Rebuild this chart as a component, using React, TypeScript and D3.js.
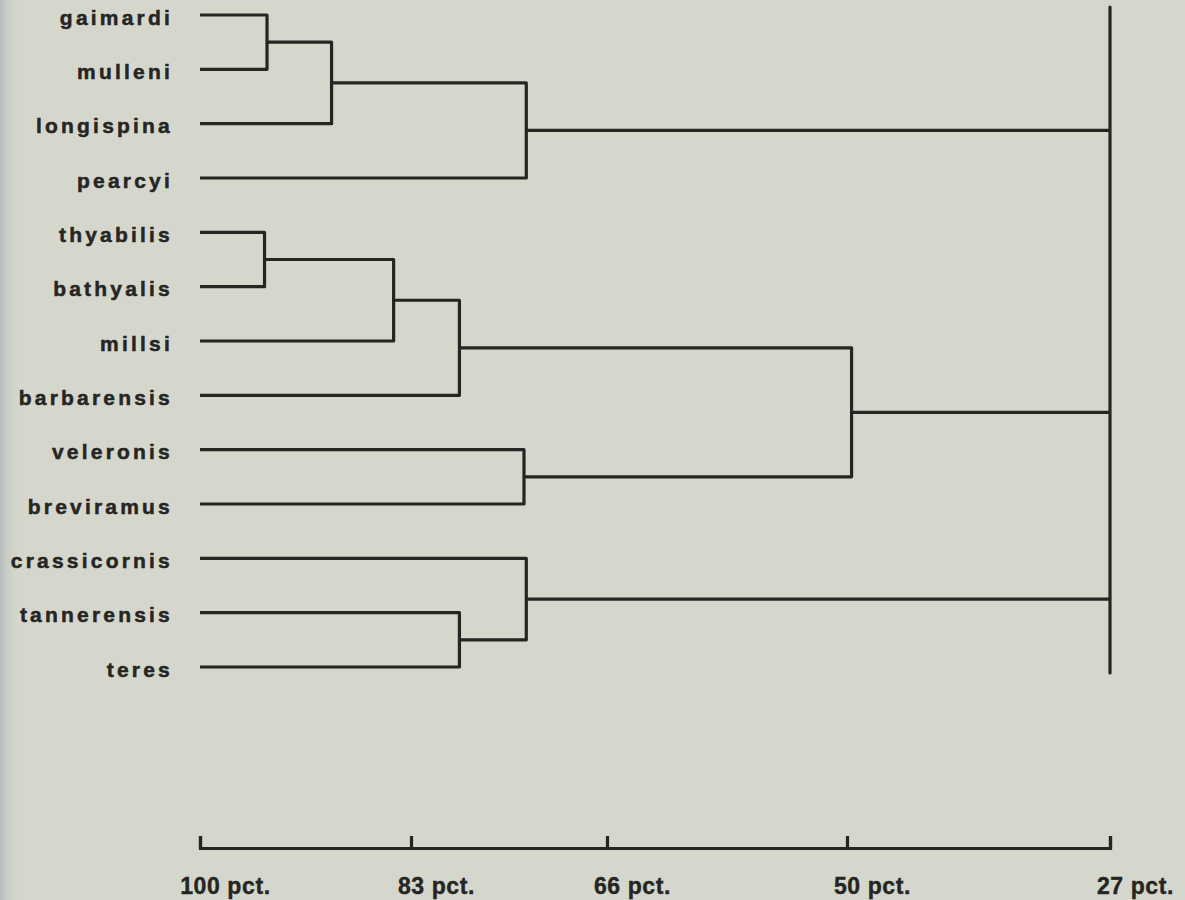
import * as d3 from 'd3';
import { useEffect, useRef } from 'react';

// leaves, top to bottom
const species = [
  'gaimardi',
  'mulleni',
  'longispina',
  'pearcyi',
  'thyabilis',
  'bathyalis',
  'millsi',
  'barbarensis',
  'veleronis',
  'breviramus',
  'crassicornis',
  'tannerensis',
  'teres',
];

// linkage: merge k joins clusters mergeA[k] and mergeB[k] (index < 13 is a leaf,
// 13 + j is merge j) at similarity mergeLevel[k] (pct.)
const mergeA = [0, 13, 14, 4, 16, 17, 8, 18, 11, 10];
const mergeB = [1, 2, 3, 5, 6, 7, 9, 19, 12, 21];
const mergeLevel = [94.6, 89.4, 73.0, 94.8, 84.4, 78.8, 73.2, 49.6, 78.8, 73.0];

// all remaining clusters join at the base
const rootChildren = [15, 20, 22];
const rootLevel = 27;

const axisTicks = [100, 83, 66, 50, 27];
const axisLabels = ['100 pct.', '83 pct.', '66 pct.', '50 pct.', '27 pct.'];

const W = 1185;
const H = 900;
const INK = '#252523';
const FONT = '"Liberation Sans", Arial, sans-serif';

const App = () => {
  const svgRef = useRef<SVGSVGElement>(null);

  useEffect(() => {
    document.body.style.margin = '0';
    if (!svgRef.current) return;
    const svg = d3.select(svgRef.current);
    svg.selectAll('*').remove();

    // the printed scale is not linear, so map it piecewise
    const x = d3
      .scaleLinear()
      .domain(axisTicks)
      .range([200, 411, 607, 847, 1110]);

    const y = d3.scalePoint<string>().domain(species).range([15, 667]);

    // background + darker scan edge
    const defs = svg.append('defs');
    const grad = defs
      .append('linearGradient')
      .attr('id', 'edge')
      .attr('x1', 0)
      .attr('x2', 1);
    grad.append('stop').attr('offset', 0).attr('stop-color', '#b4bcba');
    grad
      .append('stop')
      .attr('offset', 1)
      .attr('stop-color', '#d5d7cc')
      .attr('stop-opacity', 0);

    svg.append('rect').attr('width', W).attr('height', H).attr('fill', '#d5d7cc');
    svg.append('rect').attr('width', 20).attr('height', H).attr('fill', 'url(#edge)');

    // node positions
    const n = species.length;
    const nodeX: number[] = species.map(() => x(100));
    const nodeY: number[] = species.map((s) => y(s) ?? 0);
    mergeA.forEach((a, k) => {
      const b = mergeB[k];
      nodeX[n + k] = x(mergeLevel[k]);
      nodeY[n + k] = (nodeY[a] + nodeY[b]) / 2;
    });

    const g = svg
      .append('g')
      .attr('fill', 'none')
      .attr('stroke', INK)
      .attr('stroke-width', 3.2)
      .attr('stroke-linejoin', 'round');

    // elbows
    g.selectAll('path.merge')
      .data(mergeA.map((a, k) => ({ a, b: mergeB[k], id: n + k })))
      .join('path')
      .attr('class', 'merge')
      .attr(
        'd',
        (d) =>
          `M${nodeX[d.a]},${nodeY[d.a]}H${nodeX[d.id]}V${nodeY[d.b]}H${nodeX[d.b]}`,
      );

    // base line
    const rx = x(rootLevel);
    const yr = y.range();
    g.append('line')
      .attr('x1', rx)
      .attr('x2', rx)
      .attr('y1', yr[0] - 8)
      .attr('y2', yr[1] + 6)
      .attr('stroke-linecap', 'round');

    g.selectAll('line.root')
      .data(rootChildren)
      .join('line')
      .attr('class', 'root')
      .attr('x1', (c) => nodeX[c])
      .attr('x2', rx)
      .attr('y1', (c) => nodeY[c])
      .attr('y2', (c) => nodeY[c]);

    // leaf labels
    svg
      .append('g')
      .selectAll('text')
      .data(species)
      .join('text')
      .attr('x', 173)
      .attr('y', (d) => (y(d) ?? 0) + 9.5)
      .attr('text-anchor', 'end')
      .attr('fill', INK)
      .attr('stroke', INK)
      .attr('stroke-width', 0.5)
      .attr('font-family', FONT)
      .attr('font-weight', 700)
      .attr('font-size', 21)
      .attr('letter-spacing', 3.2)
      .text((d) => d);

    // similarity axis, ticks pointing up
    const axisY = 848;
    const axis = svg
      .append('g')
      .attr('transform', `translate(0,${axisY})`)
      .call(
        d3
          .axisTop(x)
          .tickValues(axisTicks)
          .tickSize(12)
          .tickSizeOuter(12)
          .tickFormat(() => ''),
      );
    axis.selectAll('path, line').attr('stroke', INK).attr('stroke-width', 3.2);
    axis.select('.domain').attr('fill', 'none');

    // labels: the number is centred on its tick
    svg
      .append('g')
      .selectAll('text')
      .data(axisTicks)
      .join('text')
      .attr('x', (d, i) => {
        const digits = axisLabels[i].split(' ')[0].length;
        return x(d) - (digits * 12.8 + (digits - 1) * 0.6) / 2;
      })
      .attr('y', 894)
      .attr('fill', INK)
      .attr('stroke', INK)
      .attr('stroke-width', 0.4)
      .attr('font-family', FONT)
      .attr('font-weight', 700)
      .attr('font-size', 23)
      .attr('letter-spacing', 0.6)
      .text((_, i) => axisLabels[i]);
  }, []);

  return (
    <svg
      ref={svgRef}
      width={W}
      height={H}
      style={{ display: 'block' }}
    />
  );
};

export default App;
